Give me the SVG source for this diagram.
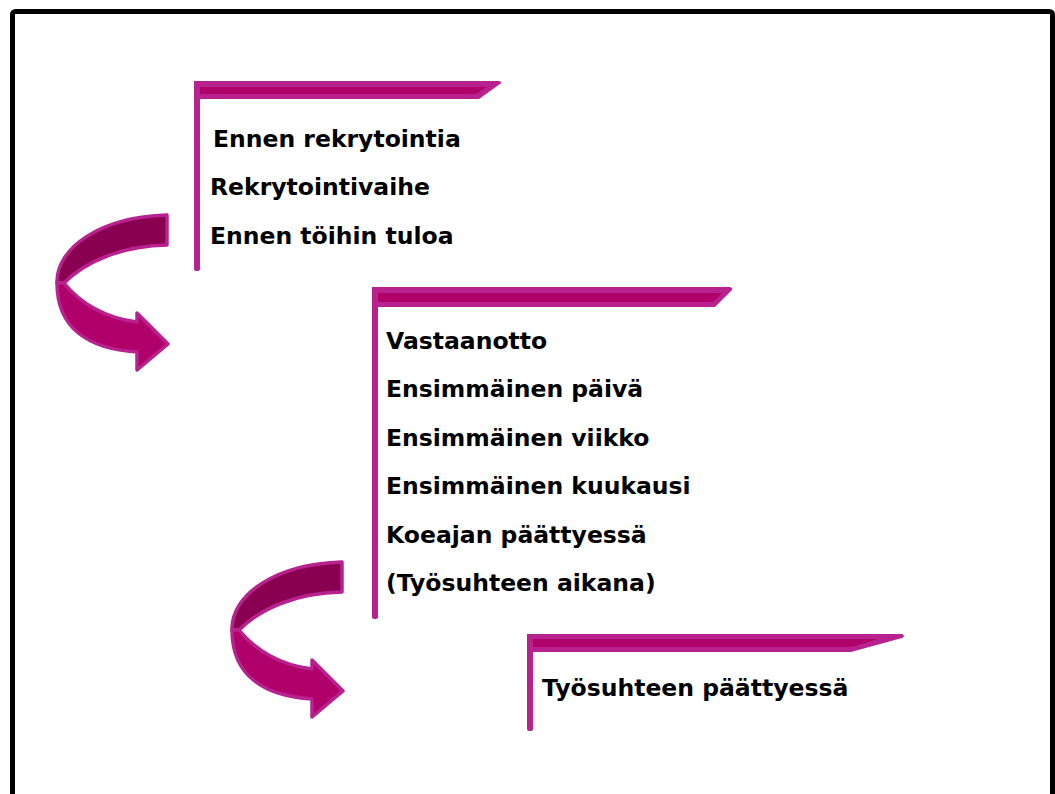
<svg xmlns="http://www.w3.org/2000/svg" width="1055" height="794" viewBox="0 0 1055 794">
  <defs>
    <style>
      .lbl { font-family: "DejaVu Sans", Verdana, sans-serif; font-weight: bold; font-size: 23.5px; fill: #000; }
      .rim { fill: #B8228F; }
      .band { fill: #B0006A; }
      .arrUp { fill: #8A0050; stroke: #B8228F; stroke-width: 3.5; stroke-linejoin: round; }
      .arrLo { fill: #B0006A; stroke: #B8228F; stroke-width: 3.5; stroke-linejoin: round; }
    </style>
    <g id="curveArrow">
      <path class="arrUp" d="M167,215 L167,245 C120,246 85,262 64,283 L57,283 C56,248 100,217 167,215 Z"/>
      <path class="arrLo" d="M57,283 L64,283 C80,303 105,318 137,322 L137,313 L168,344 L137,370 L137,352 C88,349 57,328 57,283 Z"/>
    </g>
  </defs>
  <rect x="0" y="0" width="1055" height="794" fill="#fff"/>
  <rect x="12.5" y="11.5" width="1040" height="800" rx="3" fill="none" stroke="#000" stroke-width="5"/>

  <g id="stage1">
    <rect class="rim" x="194" y="81" width="6" height="190" rx="2"/>
    <path class="rim" d="M194,81 L499,81 Q503,82 500,84 L479,99 L194,99 Z"/>
    <path class="band" d="M200,87 L487,87 L476,94 L200,94 Z"/>
    <text class="lbl" x="213" y="147">Ennen rekrytointia</text>
    <text class="lbl" x="210" y="195">Rekrytointivaihe</text>
    <text class="lbl" x="210" y="244">Ennen töihin tuloa</text>
  </g>

  <g id="stage2">
    <rect class="rim" x="372" y="287" width="6" height="332" rx="2"/>
    <path class="rim" d="M372,287 L730,287 Q734,288 731,291 L715,307 L372,307 Z"/>
    <path class="band" d="M378,293 L722,293 L713,302 L378,302 Z"/>
    <text class="lbl" x="386" y="349">Vastaanotto</text>
    <text class="lbl" x="386" y="397">Ensimmäinen päivä</text>
    <text class="lbl" x="386" y="446">Ensimmäinen viikko</text>
    <text class="lbl" x="386" y="494">Ensimmäinen kuukausi</text>
    <text class="lbl" x="386" y="543">Koeajan päättyessä</text>
    <text class="lbl" x="386" y="591">(Työsuhteen aikana)</text>
  </g>

  <g id="stage3">
    <rect class="rim" x="527" y="634" width="6" height="97" rx="2"/>
    <path class="rim" d="M527,634 L902,634 Q906,636 902,638 L851,652 L527,652 Z"/>
    <path class="band" d="M533,639 L878,639 L852,647 L533,647 Z"/>
    <text class="lbl" x="542" y="696">Työsuhteen päättyessä</text>
  </g>

  <g id="connectors">
    <use href="#curveArrow"/>
    <use href="#curveArrow" transform="translate(175,347)"/>
  </g>
</svg>
